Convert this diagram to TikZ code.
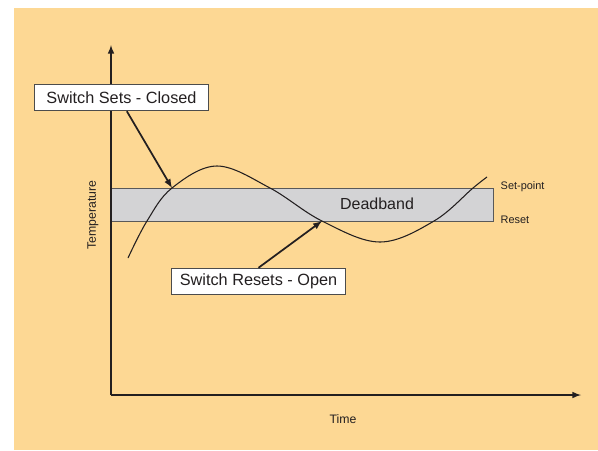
\documentclass[tikz,border=0pt]{standalone}
\usepackage{fontspec}
\setmainfont{Liberation Sans}
\definecolor{peach}{RGB}{253,216,148}
\definecolor{bandgray}{RGB}{211,211,213}
\definecolor{ink}{RGB}{35,31,32}
\tikzset{
	callout/.style={draw=gray!60!black,fill=white,line width=0.6pt,minimum width=131pt,minimum height=20pt,inner sep=0pt,font=\fontsize{12.2}{14}\selectfont,text=ink},
	pointer/.style={-latex,line width=1.3pt,draw=ink},
	axis/.style={-latex,line width=1.2pt,draw=ink},
	small/.style={font=\fontsize{8.2}{10}\selectfont,text=ink},
}
\begin{document}
\begin{tikzpicture}[x=0.75pt,y=-0.75pt]
		\useasboundingbox (0,0) rectangle (598,450);
		\fill[peach] (14,8) rectangle (598,450);
		% deadband
		\filldraw[fill=bandgray,draw=gray!70!black,line width=0.6pt] (111,188) rectangle (493,221);
		\node[font=\fontsize{12}{14}\selectfont,text=ink] (dead) at (377,204) {Deadband};
		\node[small,anchor=west] (setpt) at (496,187) {Set-point};
		\node[small,anchor=west] (reset) at (496,220) {Reset};
		% axes
		\coordinate (origin) at (111,395);
		\coordinate (ytop) at (111,45);
		\coordinate (xend) at (581,395);
		\draw[axis] (origin) -- (ytop);
		\draw[axis] (origin) -- (xend);
		\node[rotate=90,font=\fontsize{9.2}{11}\selectfont,text=ink] (temp) at (93,215) {Temperature};
		\node[font=\fontsize{9.2}{11}\selectfont,text=ink] (time) at (343,419) {Time};
		% temperature curve
		\draw[ink,line width=0.8pt] plot[smooth,tension=0.6] coordinates {(128,258) (147,221) (172,188) (217,166) (270,188) (322,221) (380,242) (434,221) (473,188) (487,177)};
		\coordinate (setx) at (172,188);
		\coordinate (resetx) at (322,221);
		% callouts
		\node[callout] (closed) at (121.5,97.5) {Switch Sets - Closed};
		\node[callout] (open) at (258.5,281.5) {Switch Resets - Open};
		\draw[pointer] ([xshift=4pt]closed.south) -- (setx);
		\draw[pointer] (open.north) -- (resetx);
	\end{tikzpicture}
\end{document}
